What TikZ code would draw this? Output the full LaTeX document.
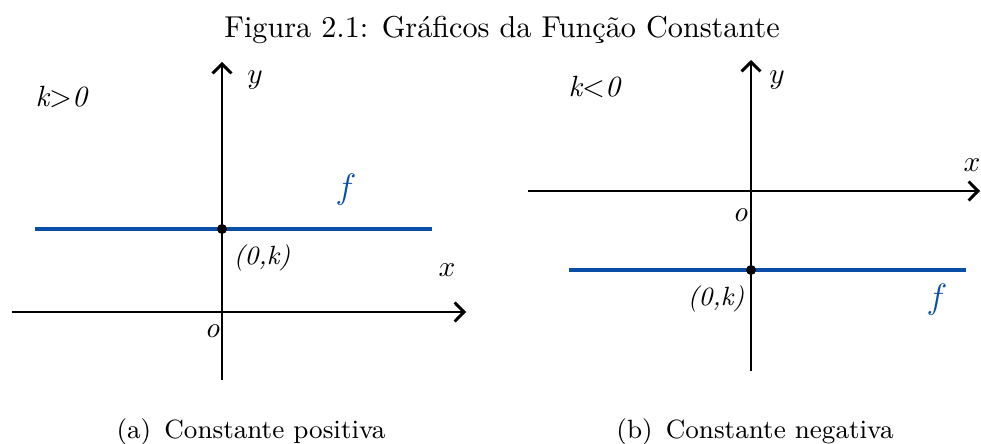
\documentclass[tikz,border=0pt]{standalone}
\usepackage{xcolor}
\usepackage{tikz}
\usetikzlibrary{positioning, arrows.meta, calc}
\definecolor{fblue}{HTML}{0B4EA8}

\tikzset{
  axis/.style={line width=1pt, -{Straight Barb[length=3.2pt,width=6.5pt,line width=1pt]}},
  fline/.style={fblue, line width=1.4pt},
  dot/.style={circle, fill=black, inner sep=0pt, minimum size=3.4pt},
  lbl/.style={inner sep=0pt}
}

\begin{document}
\begin{tikzpicture}[x=0.341pt, y=-0.341pt]
    \useasboundingbox (0,0) rectangle (981,443);
    \node[lbl] (title) at (502,30) {\fontsize{10.3}{12}\selectfont Figura 2.1: Gráficos da Função Constante};

    % (a) k > 0
    \coordinate (ya0) at (222,380);
    \coordinate (ya1) at (222,62);
    \coordinate (xa0) at (12,312);
    \coordinate (xa1) at (466,312);
    \coordinate (fa0) at (35,229);
    \coordinate (fa1) at (432,229);
    \draw[axis] (ya0) -- (ya1);
    \draw[axis] (xa0) -- (xa1);
    \draw[fline] (fa0) -- (fa1);
    \node[dot] (pa) at (222,229) {};
    \node[lbl] (ka) at (62,97) {\textit{k$>$0}};
    \node[lbl] (ylaba) at (255,80) {$y$};
    \node[lbl] (xlaba) at (447,270) {$x$};
    \node[lbl, text=fblue] (flaba) at (346,190) {\large$f$};
    \node[lbl] (pta) at (262,258) {\small\textit{(0,k)}};
    \node[lbl] (oa) at (212,331) {\textit{o}};
    \node[lbl] (capa) at (251,432) {\small (a)\enspace Constante positiva};

    % (b) k < 0
    \coordinate (yb0) at (751,371);
    \coordinate (yb1) at (751,60);
    \coordinate (xb0) at (528,191);
    \coordinate (xb1) at (980,191);
    \coordinate (fb0) at (569,270);
    \coordinate (fb1) at (966,270);
    \draw[axis] (yb0) -- (yb1);
    \draw[axis] (xb0) -- (xb1);
    \draw[fline] (fb0) -- (fb1);
    \node[dot] (pb) at (751,270) {};
    \node[lbl] (kb) at (595,87) {\textit{k$<$0}};
    \node[lbl] (ylabb) at (777,80) {$y$};
    \node[lbl] (xlabb) at (972,165) {$x$};
    \node[lbl, text=fblue] (flabb) at (937,300) {\large$f$};
    \node[lbl] (ptb) at (716,299) {\small\textit{(0,k)}};
    \node[lbl] (ob) at (740,215) {\textit{o}};
    \node[lbl] (capb) at (755,432) {\small (b)\enspace Constante negativa};
  \end{tikzpicture}
\end{document}
